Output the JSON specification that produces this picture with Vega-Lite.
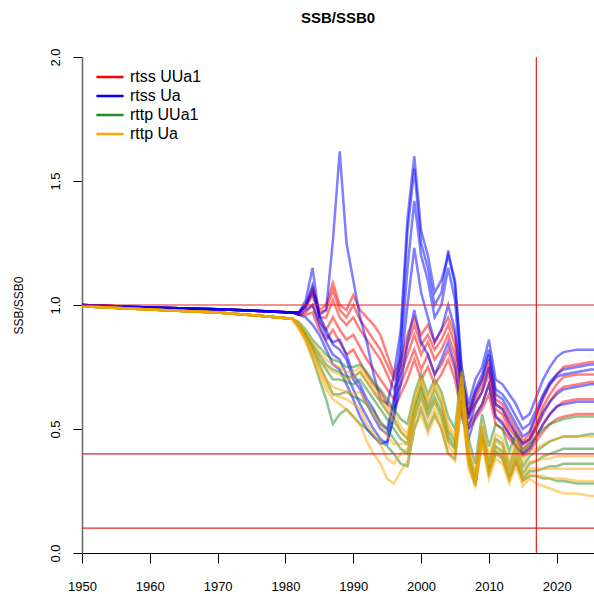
{
"$schema":"https://vega.github.io/schema/vega-lite/v6.json",
"width":512,"height":496,
"autosize":{"type":"none"},
"padding":{"left":82,"top":57,"right":0,"bottom":41},
"background":"white",
"title":{"text":"SSB/SSB0","fontSize":15,"fontWeight":"bold","font":"Liberation Sans","color":"#000","anchor":"middle","offset":22},
"config":{"view":{"stroke":null},"font":"Liberation Sans"},
"layer":[
{"data":{"values":[
{"g":"a","i":1,"x":1950,"v":1},{"g":"a","i":1,"x":1960,"v":0.99},{"g":"a","i":1,"x":1970,"v":0.983},{"g":"a","i":1,"x":1977,"v":0.975},{"g":"a","i":1,"x":1981,"v":0.97},
{"g":"a","i":1,"x":1982,"v":0.97},{"g":"a","i":1,"x":1983,"v":1.0},{"g":"a","i":1,"x":1984,"v":1.07},{"g":"a","i":1,"x":1985,"v":0.98},{"g":"a","i":1,"x":1986,"v":1.0},{"g":"a","i":1,"x":1987,"v":1.09},{"g":"a","i":1,"x":1988,"v":1.0},{"g":"a","i":1,"x":1989,"v":0.98},{"g":"a","i":1,"x":1990,"v":1.04},{"g":"a","i":1,"x":1991,"v":0.98},
{"g":"a","i":1,"x":1992,"v":0.95},{"g":"a","i":1,"x":1993,"v":0.92},{"g":"a","i":1,"x":1994,"v":0.88},{"g":"a","i":1,"x":1995,"v":0.8},{"g":"a","i":1,"x":1996,"v":0.72},{"g":"a","i":1,"x":1997,"v":0.78},{"g":"a","i":1,"x":1998,"v":0.88},{"g":"a","i":1,"x":1999,"v":0.95},{"g":"a","i":1,"x":2000,"v":0.88},{"g":"a","i":1,"x":2001,"v":0.92},
{"g":"a","i":1,"x":2002,"v":0.85},{"g":"a","i":1,"x":2003,"v":0.9},{"g":"a","i":1,"x":2004,"v":0.95},{"g":"a","i":1,"x":2005,"v":0.88},{"g":"a","i":1,"x":2006,"v":0.7},{"g":"a","i":1,"x":2007,"v":0.58},{"g":"a","i":1,"x":2008,"v":0.65},{"g":"a","i":1,"x":2009,"v":0.7},{"g":"a","i":1,"x":2010,"v":0.78},{"g":"a","i":1,"x":2011,"v":0.62},
{"g":"a","i":1,"x":2012,"v":0.6},{"g":"a","i":1,"x":2013,"v":0.55},{"g":"a","i":1,"x":2014,"v":0.5},{"g":"a","i":1,"x":2015,"v":0.45},{"g":"a","i":1,"x":2016,"v":0.48},
{"g":"a","i":1,"x":2017,"v":0.55},{"g":"a","i":1,"x":2018,"v":0.62},{"g":"a","i":1,"x":2019,"v":0.68},{"g":"a","i":1,"x":2020,"v":0.72},{"g":"a","i":1,"x":2021,"v":0.75},{"g":"a","i":1,"x":2023,"v":0.76},{"g":"a","i":1,"x":2025,"v":0.77},{"g":"a","i":1,"x":2027,"v":0.77},

{"g":"a","i":2,"x":1950,"v":1},{"g":"a","i":2,"x":1960,"v":0.99},{"g":"a","i":2,"x":1970,"v":0.983},{"g":"a","i":2,"x":1977,"v":0.975},{"g":"a","i":2,"x":1981,"v":0.97},
{"g":"a","i":2,"x":1982,"v":0.97},{"g":"a","i":2,"x":1983,"v":0.99},{"g":"a","i":2,"x":1984,"v":1.04},{"g":"a","i":2,"x":1985,"v":0.95},{"g":"a","i":2,"x":1986,"v":0.95},{"g":"a","i":2,"x":1987,"v":1.02},{"g":"a","i":2,"x":1988,"v":0.95},{"g":"a","i":2,"x":1989,"v":0.92},{"g":"a","i":2,"x":1990,"v":0.95},{"g":"a","i":2,"x":1991,"v":0.9},
{"g":"a","i":2,"x":1992,"v":0.86},{"g":"a","i":2,"x":1993,"v":0.82},{"g":"a","i":2,"x":1994,"v":0.78},{"g":"a","i":2,"x":1995,"v":0.72},{"g":"a","i":2,"x":1996,"v":0.66},{"g":"a","i":2,"x":1997,"v":0.72},{"g":"a","i":2,"x":1998,"v":0.8},{"g":"a","i":2,"x":1999,"v":0.88},{"g":"a","i":2,"x":2000,"v":0.8},{"g":"a","i":2,"x":2001,"v":0.85},
{"g":"a","i":2,"x":2002,"v":0.78},{"g":"a","i":2,"x":2003,"v":0.82},{"g":"a","i":2,"x":2004,"v":0.88},{"g":"a","i":2,"x":2005,"v":0.8},{"g":"a","i":2,"x":2006,"v":0.64},{"g":"a","i":2,"x":2007,"v":0.55},{"g":"a","i":2,"x":2008,"v":0.6},{"g":"a","i":2,"x":2009,"v":0.65},{"g":"a","i":2,"x":2010,"v":0.72},{"g":"a","i":2,"x":2011,"v":0.58},
{"g":"a","i":2,"x":2012,"v":0.56},{"g":"a","i":2,"x":2013,"v":0.5},{"g":"a","i":2,"x":2014,"v":0.47},{"g":"a","i":2,"x":2015,"v":0.42},{"g":"a","i":2,"x":2016,"v":0.45},
{"g":"a","i":2,"x":2017,"v":0.5},{"g":"a","i":2,"x":2018,"v":0.56},{"g":"a","i":2,"x":2019,"v":0.61},{"g":"a","i":2,"x":2020,"v":0.65},{"g":"a","i":2,"x":2021,"v":0.67},{"g":"a","i":2,"x":2023,"v":0.68},{"g":"a","i":2,"x":2025,"v":0.69},{"g":"a","i":2,"x":2027,"v":0.69},

{"g":"a","i":3,"x":1950,"v":1},{"g":"a","i":3,"x":1960,"v":0.99},{"g":"a","i":3,"x":1970,"v":0.983},{"g":"a","i":3,"x":1977,"v":0.975},{"g":"a","i":3,"x":1981,"v":0.97},
{"g":"a","i":3,"x":1982,"v":0.96},{"g":"a","i":3,"x":1983,"v":0.97},{"g":"a","i":3,"x":1984,"v":1.0},{"g":"a","i":3,"x":1985,"v":0.93},{"g":"a","i":3,"x":1986,"v":0.9},{"g":"a","i":3,"x":1987,"v":0.95},{"g":"a","i":3,"x":1988,"v":0.9},{"g":"a","i":3,"x":1989,"v":0.86},{"g":"a","i":3,"x":1990,"v":0.88},{"g":"a","i":3,"x":1991,"v":0.83},
{"g":"a","i":3,"x":1992,"v":0.78},{"g":"a","i":3,"x":1993,"v":0.74},{"g":"a","i":3,"x":1994,"v":0.7},{"g":"a","i":3,"x":1995,"v":0.66},{"g":"a","i":3,"x":1996,"v":0.62},{"g":"a","i":3,"x":1997,"v":0.68},{"g":"a","i":3,"x":1998,"v":0.75},{"g":"a","i":3,"x":1999,"v":0.82},{"g":"a","i":3,"x":2000,"v":0.74},{"g":"a","i":3,"x":2001,"v":0.8},
{"g":"a","i":3,"x":2002,"v":0.72},{"g":"a","i":3,"x":2003,"v":0.76},{"g":"a","i":3,"x":2004,"v":0.82},{"g":"a","i":3,"x":2005,"v":0.74},{"g":"a","i":3,"x":2006,"v":0.6},{"g":"a","i":3,"x":2007,"v":0.52},{"g":"a","i":3,"x":2008,"v":0.56},{"g":"a","i":3,"x":2009,"v":0.6},{"g":"a","i":3,"x":2010,"v":0.68},{"g":"a","i":3,"x":2011,"v":0.55},
{"g":"a","i":3,"x":2012,"v":0.53},{"g":"a","i":3,"x":2013,"v":0.48},{"g":"a","i":3,"x":2014,"v":0.45},{"g":"a","i":3,"x":2015,"v":0.4},{"g":"a","i":3,"x":2016,"v":0.43},
{"g":"a","i":3,"x":2017,"v":0.47},{"g":"a","i":3,"x":2018,"v":0.52},{"g":"a","i":3,"x":2019,"v":0.56},{"g":"a","i":3,"x":2020,"v":0.59},{"g":"a","i":3,"x":2021,"v":0.61},{"g":"a","i":3,"x":2023,"v":0.62},{"g":"a","i":3,"x":2025,"v":0.62},{"g":"a","i":3,"x":2027,"v":0.62},

{"g":"a","i":4,"x":1950,"v":1},{"g":"a","i":4,"x":1960,"v":0.99},{"g":"a","i":4,"x":1970,"v":0.983},{"g":"a","i":4,"x":1977,"v":0.975},{"g":"a","i":4,"x":1981,"v":0.97},
{"g":"a","i":4,"x":1982,"v":0.96},{"g":"a","i":4,"x":1983,"v":0.96},{"g":"a","i":4,"x":1984,"v":0.97},{"g":"a","i":4,"x":1985,"v":0.9},{"g":"a","i":4,"x":1986,"v":0.86},{"g":"a","i":4,"x":1987,"v":0.9},{"g":"a","i":4,"x":1988,"v":0.85},{"g":"a","i":4,"x":1989,"v":0.8},{"g":"a","i":4,"x":1990,"v":0.82},{"g":"a","i":4,"x":1991,"v":0.77},
{"g":"a","i":4,"x":1992,"v":0.72},{"g":"a","i":4,"x":1993,"v":0.68},{"g":"a","i":4,"x":1994,"v":0.65},{"g":"a","i":4,"x":1995,"v":0.6},{"g":"a","i":4,"x":1996,"v":0.58},{"g":"a","i":4,"x":1997,"v":0.64},{"g":"a","i":4,"x":1998,"v":0.7},{"g":"a","i":4,"x":1999,"v":0.78},{"g":"a","i":4,"x":2000,"v":0.7},{"g":"a","i":4,"x":2001,"v":0.75},
{"g":"a","i":4,"x":2002,"v":0.68},{"g":"a","i":4,"x":2003,"v":0.72},{"g":"a","i":4,"x":2004,"v":0.78},{"g":"a","i":4,"x":2005,"v":0.7},{"g":"a","i":4,"x":2006,"v":0.56},{"g":"a","i":4,"x":2007,"v":0.5},{"g":"a","i":4,"x":2008,"v":0.54},{"g":"a","i":4,"x":2009,"v":0.58},{"g":"a","i":4,"x":2010,"v":0.64},{"g":"a","i":4,"x":2011,"v":0.52},
{"g":"a","i":4,"x":2012,"v":0.5},{"g":"a","i":4,"x":2013,"v":0.46},{"g":"a","i":4,"x":2014,"v":0.43},{"g":"a","i":4,"x":2015,"v":0.39},{"g":"a","i":4,"x":2016,"v":0.41},
{"g":"a","i":4,"x":2017,"v":0.45},{"g":"a","i":4,"x":2018,"v":0.49},{"g":"a","i":4,"x":2019,"v":0.52},{"g":"a","i":4,"x":2020,"v":0.54},{"g":"a","i":4,"x":2021,"v":0.55},{"g":"a","i":4,"x":2023,"v":0.56},{"g":"a","i":4,"x":2025,"v":0.56},{"g":"a","i":4,"x":2027,"v":0.56},

{"g":"a","i":5,"x":1950,"v":1},{"g":"a","i":5,"x":1960,"v":0.99},{"g":"a","i":5,"x":1970,"v":0.983},{"g":"a","i":5,"x":1977,"v":0.975},{"g":"a","i":5,"x":1981,"v":0.97},
{"g":"a","i":5,"x":1982,"v":0.97},{"g":"a","i":5,"x":1983,"v":0.99},{"g":"a","i":5,"x":1984,"v":1.06},{"g":"a","i":5,"x":1985,"v":0.97},{"g":"a","i":5,"x":1986,"v":0.98},{"g":"a","i":5,"x":1987,"v":1.06},{"g":"a","i":5,"x":1988,"v":0.98},{"g":"a","i":5,"x":1989,"v":0.95},{"g":"a","i":5,"x":1990,"v":1.0},{"g":"a","i":5,"x":1991,"v":0.94},
{"g":"a","i":5,"x":1992,"v":0.9},{"g":"a","i":5,"x":1993,"v":0.86},{"g":"a","i":5,"x":1994,"v":0.82},{"g":"a","i":5,"x":1995,"v":0.76},{"g":"a","i":5,"x":1996,"v":0.7},{"g":"a","i":5,"x":1997,"v":0.75},{"g":"a","i":5,"x":1998,"v":0.84},{"g":"a","i":5,"x":1999,"v":0.92},{"g":"a","i":5,"x":2000,"v":0.84},{"g":"a","i":5,"x":2001,"v":0.88},
{"g":"a","i":5,"x":2002,"v":0.82},{"g":"a","i":5,"x":2003,"v":0.86},{"g":"a","i":5,"x":2004,"v":0.92},{"g":"a","i":5,"x":2005,"v":0.84},{"g":"a","i":5,"x":2006,"v":0.67},{"g":"a","i":5,"x":2007,"v":0.56},{"g":"a","i":5,"x":2008,"v":0.62},{"g":"a","i":5,"x":2009,"v":0.68},{"g":"a","i":5,"x":2010,"v":0.75},{"g":"a","i":5,"x":2011,"v":0.6},
{"g":"a","i":5,"x":2012,"v":0.58},{"g":"a","i":5,"x":2013,"v":0.52},{"g":"a","i":5,"x":2014,"v":0.48},{"g":"a","i":5,"x":2015,"v":0.44},{"g":"a","i":5,"x":2016,"v":0.46},
{"g":"a","i":5,"x":2017,"v":0.52},{"g":"a","i":5,"x":2018,"v":0.59},{"g":"a","i":5,"x":2019,"v":0.64},{"g":"a","i":5,"x":2020,"v":0.68},{"g":"a","i":5,"x":2021,"v":0.71},{"g":"a","i":5,"x":2023,"v":0.72},{"g":"a","i":5,"x":2025,"v":0.72},{"g":"a","i":5,"x":2027,"v":0.72},

{"g":"b","i":1,"x":1950,"v":1},{"g":"b","i":1,"x":1960,"v":0.99},{"g":"b","i":1,"x":1970,"v":0.983},{"g":"b","i":1,"x":1977,"v":0.975},{"g":"b","i":1,"x":1981,"v":0.97},
{"g":"b","i":1,"x":1982,"v":0.97},{"g":"b","i":1,"x":1983,"v":1.0},{"g":"b","i":1,"x":1984,"v":1.05},{"g":"b","i":1,"x":1985,"v":0.96},{"g":"b","i":1,"x":1986,"v":0.98},{"g":"b","i":1,"x":1987,"v":1.26},{"g":"b","i":1,"x":1988,"v":1.62},{"g":"b","i":1,"x":1989,"v":1.25},{"g":"b","i":1,"x":1990,"v":1.1},{"g":"b","i":1,"x":1991,"v":0.95},
{"g":"b","i":1,"x":1992,"v":0.85},{"g":"b","i":1,"x":1993,"v":0.72},{"g":"b","i":1,"x":1994,"v":0.62},{"g":"b","i":1,"x":1995,"v":0.6},{"g":"b","i":1,"x":1996,"v":0.72},{"g":"b","i":1,"x":1997,"v":0.9},{"g":"b","i":1,"x":1998,"v":1.35},{"g":"b","i":1,"x":1999,"v":1.6},{"g":"b","i":1,"x":2000,"v":1.3},{"g":"b","i":1,"x":2001,"v":1.2},
{"g":"b","i":1,"x":2002,"v":1.05},{"g":"b","i":1,"x":2003,"v":1.1},{"g":"b","i":1,"x":2004,"v":1.2},{"g":"b","i":1,"x":2005,"v":1.1},{"g":"b","i":1,"x":2006,"v":0.75},{"g":"b","i":1,"x":2007,"v":0.6},{"g":"b","i":1,"x":2008,"v":0.7},{"g":"b","i":1,"x":2009,"v":0.75},{"g":"b","i":1,"x":2010,"v":0.86},{"g":"b","i":1,"x":2011,"v":0.7},
{"g":"b","i":1,"x":2012,"v":0.68},{"g":"b","i":1,"x":2013,"v":0.64},{"g":"b","i":1,"x":2014,"v":0.6},{"g":"b","i":1,"x":2015,"v":0.54},{"g":"b","i":1,"x":2016,"v":0.56},
{"g":"b","i":1,"x":2017,"v":0.63},{"g":"b","i":1,"x":2018,"v":0.7},{"g":"b","i":1,"x":2019,"v":0.75},{"g":"b","i":1,"x":2020,"v":0.79},{"g":"b","i":1,"x":2021,"v":0.81},{"g":"b","i":1,"x":2023,"v":0.82},{"g":"b","i":1,"x":2025,"v":0.82},{"g":"b","i":1,"x":2027,"v":0.82},

{"g":"b","i":2,"x":1950,"v":1},{"g":"b","i":2,"x":1960,"v":0.99},{"g":"b","i":2,"x":1970,"v":0.983},{"g":"b","i":2,"x":1977,"v":0.975},{"g":"b","i":2,"x":1981,"v":0.97},
{"g":"b","i":2,"x":1982,"v":0.97},{"g":"b","i":2,"x":1983,"v":1.02},{"g":"b","i":2,"x":1984,"v":1.15},{"g":"b","i":2,"x":1985,"v":0.95},{"g":"b","i":2,"x":1986,"v":0.88},{"g":"b","i":2,"x":1987,"v":0.85},{"g":"b","i":2,"x":1988,"v":0.86},{"g":"b","i":2,"x":1989,"v":0.8},{"g":"b","i":2,"x":1990,"v":0.72},{"g":"b","i":2,"x":1991,"v":0.68},
{"g":"b","i":2,"x":1992,"v":0.62},{"g":"b","i":2,"x":1993,"v":0.58},{"g":"b","i":2,"x":1994,"v":0.52},{"g":"b","i":2,"x":1995,"v":0.5},{"g":"b","i":2,"x":1996,"v":0.62},{"g":"b","i":2,"x":1997,"v":0.85},{"g":"b","i":2,"x":1998,"v":1.3},{"g":"b","i":2,"x":1999,"v":1.55},{"g":"b","i":2,"x":2000,"v":1.25},{"g":"b","i":2,"x":2001,"v":1.15},
{"g":"b","i":2,"x":2002,"v":1.0},{"g":"b","i":2,"x":2003,"v":1.05},{"g":"b","i":2,"x":2004,"v":1.22},{"g":"b","i":2,"x":2005,"v":1.08},{"g":"b","i":2,"x":2006,"v":0.72},{"g":"b","i":2,"x":2007,"v":0.56},{"g":"b","i":2,"x":2008,"v":0.66},{"g":"b","i":2,"x":2009,"v":0.72},{"g":"b","i":2,"x":2010,"v":0.82},{"g":"b","i":2,"x":2011,"v":0.66},
{"g":"b","i":2,"x":2012,"v":0.64},{"g":"b","i":2,"x":2013,"v":0.6},{"g":"b","i":2,"x":2014,"v":0.55},{"g":"b","i":2,"x":2015,"v":0.5},{"g":"b","i":2,"x":2016,"v":0.52},
{"g":"b","i":2,"x":2017,"v":0.58},{"g":"b","i":2,"x":2018,"v":0.64},{"g":"b","i":2,"x":2019,"v":0.69},{"g":"b","i":2,"x":2020,"v":0.72},{"g":"b","i":2,"x":2021,"v":0.74},{"g":"b","i":2,"x":2023,"v":0.75},{"g":"b","i":2,"x":2025,"v":0.76},{"g":"b","i":2,"x":2027,"v":0.76},

{"g":"b","i":3,"x":1950,"v":1},{"g":"b","i":3,"x":1960,"v":0.99},{"g":"b","i":3,"x":1970,"v":0.983},{"g":"b","i":3,"x":1977,"v":0.975},{"g":"b","i":3,"x":1981,"v":0.97},
{"g":"b","i":3,"x":1982,"v":0.96},{"g":"b","i":3,"x":1983,"v":0.98},{"g":"b","i":3,"x":1984,"v":1.0},{"g":"b","i":3,"x":1985,"v":0.92},{"g":"b","i":3,"x":1986,"v":0.85},{"g":"b","i":3,"x":1987,"v":0.8},{"g":"b","i":3,"x":1988,"v":0.78},{"g":"b","i":3,"x":1989,"v":0.72},{"g":"b","i":3,"x":1990,"v":0.66},{"g":"b","i":3,"x":1991,"v":0.6},
{"g":"b","i":3,"x":1992,"v":0.55},{"g":"b","i":3,"x":1993,"v":0.5},{"g":"b","i":3,"x":1994,"v":0.46},{"g":"b","i":3,"x":1995,"v":0.44},{"g":"b","i":3,"x":1996,"v":0.55},{"g":"b","i":3,"x":1997,"v":0.75},{"g":"b","i":3,"x":1998,"v":1.0},{"g":"b","i":3,"x":1999,"v":1.23},{"g":"b","i":3,"x":2000,"v":1.05},{"g":"b","i":3,"x":2001,"v":0.95},
{"g":"b","i":3,"x":2002,"v":0.85},{"g":"b","i":3,"x":2003,"v":0.9},{"g":"b","i":3,"x":2004,"v":1.0},{"g":"b","i":3,"x":2005,"v":0.9},{"g":"b","i":3,"x":2006,"v":0.62},{"g":"b","i":3,"x":2007,"v":0.5},{"g":"b","i":3,"x":2008,"v":0.6},{"g":"b","i":3,"x":2009,"v":0.65},{"g":"b","i":3,"x":2010,"v":0.75},{"g":"b","i":3,"x":2011,"v":0.6},
{"g":"b","i":3,"x":2012,"v":0.58},{"g":"b","i":3,"x":2013,"v":0.53},{"g":"b","i":3,"x":2014,"v":0.48},{"g":"b","i":3,"x":2015,"v":0.44},{"g":"b","i":3,"x":2016,"v":0.46},
{"g":"b","i":3,"x":2017,"v":0.51},{"g":"b","i":3,"x":2018,"v":0.57},{"g":"b","i":3,"x":2019,"v":0.61},{"g":"b","i":3,"x":2020,"v":0.64},{"g":"b","i":3,"x":2021,"v":0.66},{"g":"b","i":3,"x":2023,"v":0.67},{"g":"b","i":3,"x":2025,"v":0.68},{"g":"b","i":3,"x":2027,"v":0.68},

{"g":"b","i":4,"x":1950,"v":1},{"g":"b","i":4,"x":1960,"v":0.99},{"g":"b","i":4,"x":1970,"v":0.983},{"g":"b","i":4,"x":1977,"v":0.975},{"g":"b","i":4,"x":1981,"v":0.97},
{"g":"b","i":4,"x":1982,"v":0.96},{"g":"b","i":4,"x":1983,"v":0.95},{"g":"b","i":4,"x":1984,"v":0.92},{"g":"b","i":4,"x":1985,"v":0.88},{"g":"b","i":4,"x":1986,"v":0.82},{"g":"b","i":4,"x":1987,"v":0.76},{"g":"b","i":4,"x":1988,"v":0.74},{"g":"b","i":4,"x":1989,"v":0.68},{"g":"b","i":4,"x":1990,"v":0.62},{"g":"b","i":4,"x":1991,"v":0.55},
{"g":"b","i":4,"x":1992,"v":0.5},{"g":"b","i":4,"x":1993,"v":0.47},{"g":"b","i":4,"x":1994,"v":0.44},{"g":"b","i":4,"x":1995,"v":0.45},{"g":"b","i":4,"x":1996,"v":0.55},{"g":"b","i":4,"x":1997,"v":0.68},{"g":"b","i":4,"x":1998,"v":0.85},{"g":"b","i":4,"x":1999,"v":0.98},{"g":"b","i":4,"x":2000,"v":0.85},{"g":"b","i":4,"x":2001,"v":0.8},
{"g":"b","i":4,"x":2002,"v":0.72},{"g":"b","i":4,"x":2003,"v":0.78},{"g":"b","i":4,"x":2004,"v":0.85},{"g":"b","i":4,"x":2005,"v":0.76},{"g":"b","i":4,"x":2006,"v":0.55},{"g":"b","i":4,"x":2007,"v":0.46},{"g":"b","i":4,"x":2008,"v":0.55},{"g":"b","i":4,"x":2009,"v":0.6},{"g":"b","i":4,"x":2010,"v":0.68},{"g":"b","i":4,"x":2011,"v":0.55},
{"g":"b","i":4,"x":2012,"v":0.52},{"g":"b","i":4,"x":2013,"v":0.48},{"g":"b","i":4,"x":2014,"v":0.43},{"g":"b","i":4,"x":2015,"v":0.4},{"g":"b","i":4,"x":2016,"v":0.42},
{"g":"b","i":4,"x":2017,"v":0.47},{"g":"b","i":4,"x":2018,"v":0.52},{"g":"b","i":4,"x":2019,"v":0.56},{"g":"b","i":4,"x":2020,"v":0.59},{"g":"b","i":4,"x":2021,"v":0.6},{"g":"b","i":4,"x":2023,"v":0.61},{"g":"b","i":4,"x":2025,"v":0.61},{"g":"b","i":4,"x":2027,"v":0.61},

{"g":"b","i":5,"x":1950,"v":1},{"g":"b","i":5,"x":1960,"v":0.99},{"g":"b","i":5,"x":1970,"v":0.983},{"g":"b","i":5,"x":1977,"v":0.975},{"g":"b","i":5,"x":1981,"v":0.97},
{"g":"b","i":5,"x":1982,"v":0.97},{"g":"b","i":5,"x":1983,"v":1.0},{"g":"b","i":5,"x":1984,"v":1.08},{"g":"b","i":5,"x":1985,"v":0.96},{"g":"b","i":5,"x":1986,"v":0.9},{"g":"b","i":5,"x":1987,"v":0.84},{"g":"b","i":5,"x":1988,"v":0.82},{"g":"b","i":5,"x":1989,"v":0.78},{"g":"b","i":5,"x":1990,"v":0.7},{"g":"b","i":5,"x":1991,"v":0.66},
{"g":"b","i":5,"x":1992,"v":0.6},{"g":"b","i":5,"x":1993,"v":0.55},{"g":"b","i":5,"x":1994,"v":0.5},{"g":"b","i":5,"x":1995,"v":0.48},{"g":"b","i":5,"x":1996,"v":0.6},{"g":"b","i":5,"x":1997,"v":0.8},{"g":"b","i":5,"x":1998,"v":1.15},{"g":"b","i":5,"x":1999,"v":1.42},{"g":"b","i":5,"x":2000,"v":1.2},{"g":"b","i":5,"x":2001,"v":1.1},
{"g":"b","i":5,"x":2002,"v":0.95},{"g":"b","i":5,"x":2003,"v":1.0},{"g":"b","i":5,"x":2004,"v":1.15},{"g":"b","i":5,"x":2005,"v":1.02},{"g":"b","i":5,"x":2006,"v":0.68},{"g":"b","i":5,"x":2007,"v":0.54},{"g":"b","i":5,"x":2008,"v":0.64},{"g":"b","i":5,"x":2009,"v":0.7},{"g":"b","i":5,"x":2010,"v":0.8},{"g":"b","i":5,"x":2011,"v":0.64},
{"g":"b","i":5,"x":2012,"v":0.62},{"g":"b","i":5,"x":2013,"v":0.57},{"g":"b","i":5,"x":2014,"v":0.52},{"g":"b","i":5,"x":2015,"v":0.47},{"g":"b","i":5,"x":2016,"v":0.49},
{"g":"b","i":5,"x":2017,"v":0.56},{"g":"b","i":5,"x":2018,"v":0.63},{"g":"b","i":5,"x":2019,"v":0.68},{"g":"b","i":5,"x":2020,"v":0.71},{"g":"b","i":5,"x":2021,"v":0.72},{"g":"b","i":5,"x":2023,"v":0.73},{"g":"b","i":5,"x":2025,"v":0.74},{"g":"b","i":5,"x":2027,"v":0.74},

{"g":"c","i":1,"x":1950,"v":0.995},{"g":"c","i":1,"x":1960,"v":0.982},{"g":"c","i":1,"x":1970,"v":0.97},{"g":"c","i":1,"x":1977,"v":0.955},{"g":"c","i":1,"x":1981,"v":0.945},
{"g":"c","i":1,"x":1982,"v":0.93},{"g":"c","i":1,"x":1983,"v":0.9},{"g":"c","i":1,"x":1984,"v":0.86},{"g":"c","i":1,"x":1985,"v":0.83},{"g":"c","i":1,"x":1986,"v":0.8},{"g":"c","i":1,"x":1987,"v":0.78},{"g":"c","i":1,"x":1988,"v":0.77},{"g":"c","i":1,"x":1989,"v":0.75},{"g":"c","i":1,"x":1990,"v":0.75},{"g":"c","i":1,"x":1991,"v":0.76},
{"g":"c","i":1,"x":1992,"v":0.73},{"g":"c","i":1,"x":1993,"v":0.69},{"g":"c","i":1,"x":1994,"v":0.66},{"g":"c","i":1,"x":1995,"v":0.62},{"g":"c","i":1,"x":1996,"v":0.58},{"g":"c","i":1,"x":1997,"v":0.54},{"g":"c","i":1,"x":1998,"v":0.52},{"g":"c","i":1,"x":1999,"v":0.64},{"g":"c","i":1,"x":2000,"v":0.72},{"g":"c","i":1,"x":2001,"v":0.64},
{"g":"c","i":1,"x":2002,"v":0.7},{"g":"c","i":1,"x":2003,"v":0.65},{"g":"c","i":1,"x":2004,"v":0.55},{"g":"c","i":1,"x":2005,"v":0.5},{"g":"c","i":1,"x":2006,"v":0.74},{"g":"c","i":1,"x":2007,"v":0.46},{"g":"c","i":1,"x":2008,"v":0.36},{"g":"c","i":1,"x":2009,"v":0.56},{"g":"c","i":1,"x":2010,"v":0.43},{"g":"c","i":1,"x":2011,"v":0.52},
{"g":"c","i":1,"x":2012,"v":0.5},{"g":"c","i":1,"x":2013,"v":0.41},{"g":"c","i":1,"x":2014,"v":0.48},{"g":"c","i":1,"x":2015,"v":0.41},{"g":"c","i":1,"x":2016,"v":0.44},
{"g":"c","i":1,"x":2017,"v":0.47},{"g":"c","i":1,"x":2018,"v":0.5},{"g":"c","i":1,"x":2019,"v":0.52},{"g":"c","i":1,"x":2020,"v":0.53},{"g":"c","i":1,"x":2021,"v":0.54},{"g":"c","i":1,"x":2023,"v":0.55},{"g":"c","i":1,"x":2025,"v":0.55},{"g":"c","i":1,"x":2027,"v":0.55},

{"g":"c","i":2,"x":1950,"v":0.995},{"g":"c","i":2,"x":1960,"v":0.982},{"g":"c","i":2,"x":1970,"v":0.97},{"g":"c","i":2,"x":1977,"v":0.955},{"g":"c","i":2,"x":1981,"v":0.945},
{"g":"c","i":2,"x":1982,"v":0.92},{"g":"c","i":2,"x":1983,"v":0.88},{"g":"c","i":2,"x":1984,"v":0.84},{"g":"c","i":2,"x":1985,"v":0.8},{"g":"c","i":2,"x":1986,"v":0.76},{"g":"c","i":2,"x":1987,"v":0.74},{"g":"c","i":2,"x":1988,"v":0.73},{"g":"c","i":2,"x":1989,"v":0.71},{"g":"c","i":2,"x":1990,"v":0.71},{"g":"c","i":2,"x":1991,"v":0.73},
{"g":"c","i":2,"x":1992,"v":0.69},{"g":"c","i":2,"x":1993,"v":0.65},{"g":"c","i":2,"x":1994,"v":0.61},{"g":"c","i":2,"x":1995,"v":0.57},{"g":"c","i":2,"x":1996,"v":0.54},{"g":"c","i":2,"x":1997,"v":0.49},{"g":"c","i":2,"x":1998,"v":0.46},{"g":"c","i":2,"x":1999,"v":0.59},{"g":"c","i":2,"x":2000,"v":0.68},{"g":"c","i":2,"x":2001,"v":0.59},
{"g":"c","i":2,"x":2002,"v":0.66},{"g":"c","i":2,"x":2003,"v":0.6},{"g":"c","i":2,"x":2004,"v":0.49},{"g":"c","i":2,"x":2005,"v":0.45},{"g":"c","i":2,"x":2006,"v":0.7},{"g":"c","i":2,"x":2007,"v":0.41},{"g":"c","i":2,"x":2008,"v":0.31},{"g":"c","i":2,"x":2009,"v":0.51},{"g":"c","i":2,"x":2010,"v":0.37},{"g":"c","i":2,"x":2011,"v":0.46},
{"g":"c","i":2,"x":2012,"v":0.44},{"g":"c","i":2,"x":2013,"v":0.35},{"g":"c","i":2,"x":2014,"v":0.43},{"g":"c","i":2,"x":2015,"v":0.35},{"g":"c","i":2,"x":2016,"v":0.39},
{"g":"c","i":2,"x":2017,"v":0.41},{"g":"c","i":2,"x":2018,"v":0.43},{"g":"c","i":2,"x":2019,"v":0.45},{"g":"c","i":2,"x":2020,"v":0.46},{"g":"c","i":2,"x":2021,"v":0.47},{"g":"c","i":2,"x":2023,"v":0.47},{"g":"c","i":2,"x":2025,"v":0.48},{"g":"c","i":2,"x":2027,"v":0.48},

{"g":"c","i":3,"x":1950,"v":0.995},{"g":"c","i":3,"x":1960,"v":0.982},{"g":"c","i":3,"x":1970,"v":0.97},{"g":"c","i":3,"x":1977,"v":0.955},{"g":"c","i":3,"x":1981,"v":0.945},
{"g":"c","i":3,"x":1982,"v":0.91},{"g":"c","i":3,"x":1983,"v":0.86},{"g":"c","i":3,"x":1984,"v":0.79},{"g":"c","i":3,"x":1985,"v":0.7},{"g":"c","i":3,"x":1986,"v":0.62},{"g":"c","i":3,"x":1987,"v":0.52},{"g":"c","i":3,"x":1988,"v":0.56},{"g":"c","i":3,"x":1989,"v":0.58},{"g":"c","i":3,"x":1990,"v":0.55},{"g":"c","i":3,"x":1991,"v":0.52},
{"g":"c","i":3,"x":1992,"v":0.5},{"g":"c","i":3,"x":1993,"v":0.47},{"g":"c","i":3,"x":1994,"v":0.45},{"g":"c","i":3,"x":1995,"v":0.43},{"g":"c","i":3,"x":1996,"v":0.4},{"g":"c","i":3,"x":1997,"v":0.36},{"g":"c","i":3,"x":1998,"v":0.35},{"g":"c","i":3,"x":1999,"v":0.5},{"g":"c","i":3,"x":2000,"v":0.58},{"g":"c","i":3,"x":2001,"v":0.5},
{"g":"c","i":3,"x":2002,"v":0.56},{"g":"c","i":3,"x":2003,"v":0.5},{"g":"c","i":3,"x":2004,"v":0.4},{"g":"c","i":3,"x":2005,"v":0.38},{"g":"c","i":3,"x":2006,"v":0.62},{"g":"c","i":3,"x":2007,"v":0.36},{"g":"c","i":3,"x":2008,"v":0.27},{"g":"c","i":3,"x":2009,"v":0.46},{"g":"c","i":3,"x":2010,"v":0.32},{"g":"c","i":3,"x":2011,"v":0.4},
{"g":"c","i":3,"x":2012,"v":0.38},{"g":"c","i":3,"x":2013,"v":0.3},{"g":"c","i":3,"x":2014,"v":0.37},{"g":"c","i":3,"x":2015,"v":0.3},{"g":"c","i":3,"x":2016,"v":0.33},
{"g":"c","i":3,"x":2017,"v":0.33},{"g":"c","i":3,"x":2018,"v":0.34},{"g":"c","i":3,"x":2019,"v":0.35},{"g":"c","i":3,"x":2020,"v":0.35},{"g":"c","i":3,"x":2021,"v":0.36},{"g":"c","i":3,"x":2023,"v":0.36},{"g":"c","i":3,"x":2025,"v":0.36},{"g":"c","i":3,"x":2027,"v":0.36},

{"g":"c","i":4,"x":1950,"v":0.995},{"g":"c","i":4,"x":1960,"v":0.982},{"g":"c","i":4,"x":1970,"v":0.97},{"g":"c","i":4,"x":1977,"v":0.955},{"g":"c","i":4,"x":1981,"v":0.945},
{"g":"c","i":4,"x":1982,"v":0.92},{"g":"c","i":4,"x":1983,"v":0.87},{"g":"c","i":4,"x":1984,"v":0.82},{"g":"c","i":4,"x":1985,"v":0.76},{"g":"c","i":4,"x":1986,"v":0.7},{"g":"c","i":4,"x":1987,"v":0.64},{"g":"c","i":4,"x":1988,"v":0.64},{"g":"c","i":4,"x":1989,"v":0.65},{"g":"c","i":4,"x":1990,"v":0.63},{"g":"c","i":4,"x":1991,"v":0.62},
{"g":"c","i":4,"x":1992,"v":0.6},{"g":"c","i":4,"x":1993,"v":0.57},{"g":"c","i":4,"x":1994,"v":0.53},{"g":"c","i":4,"x":1995,"v":0.5},{"g":"c","i":4,"x":1996,"v":0.46},{"g":"c","i":4,"x":1997,"v":0.42},{"g":"c","i":4,"x":1998,"v":0.4},{"g":"c","i":4,"x":1999,"v":0.54},{"g":"c","i":4,"x":2000,"v":0.63},{"g":"c","i":4,"x":2001,"v":0.55},
{"g":"c","i":4,"x":2002,"v":0.61},{"g":"c","i":4,"x":2003,"v":0.55},{"g":"c","i":4,"x":2004,"v":0.45},{"g":"c","i":4,"x":2005,"v":0.42},{"g":"c","i":4,"x":2006,"v":0.66},{"g":"c","i":4,"x":2007,"v":0.38},{"g":"c","i":4,"x":2008,"v":0.29},{"g":"c","i":4,"x":2009,"v":0.48},{"g":"c","i":4,"x":2010,"v":0.35},{"g":"c","i":4,"x":2011,"v":0.43},
{"g":"c","i":4,"x":2012,"v":0.41},{"g":"c","i":4,"x":2013,"v":0.32},{"g":"c","i":4,"x":2014,"v":0.4},{"g":"c","i":4,"x":2015,"v":0.32},{"g":"c","i":4,"x":2016,"v":0.36},
{"g":"c","i":4,"x":2017,"v":0.37},{"g":"c","i":4,"x":2018,"v":0.39},{"g":"c","i":4,"x":2019,"v":0.4},{"g":"c","i":4,"x":2020,"v":0.41},{"g":"c","i":4,"x":2021,"v":0.42},{"g":"c","i":4,"x":2023,"v":0.42},{"g":"c","i":4,"x":2025,"v":0.42},{"g":"c","i":4,"x":2027,"v":0.42},

{"g":"c","i":5,"x":1950,"v":0.995},{"g":"c","i":5,"x":1960,"v":0.982},{"g":"c","i":5,"x":1970,"v":0.97},{"g":"c","i":5,"x":1977,"v":0.955},{"g":"c","i":5,"x":1981,"v":0.945},
{"g":"c","i":5,"x":1982,"v":0.92},{"g":"c","i":5,"x":1983,"v":0.88},{"g":"c","i":5,"x":1984,"v":0.83},{"g":"c","i":5,"x":1985,"v":0.78},{"g":"c","i":5,"x":1986,"v":0.74},{"g":"c","i":5,"x":1987,"v":0.7},{"g":"c","i":5,"x":1988,"v":0.7},{"g":"c","i":5,"x":1989,"v":0.69},{"g":"c","i":5,"x":1990,"v":0.68},{"g":"c","i":5,"x":1991,"v":0.7},
{"g":"c","i":5,"x":1992,"v":0.66},{"g":"c","i":5,"x":1993,"v":0.62},{"g":"c","i":5,"x":1994,"v":0.58},{"g":"c","i":5,"x":1995,"v":0.54},{"g":"c","i":5,"x":1996,"v":0.5},{"g":"c","i":5,"x":1997,"v":0.46},{"g":"c","i":5,"x":1998,"v":0.44},{"g":"c","i":5,"x":1999,"v":0.57},{"g":"c","i":5,"x":2000,"v":0.66},{"g":"c","i":5,"x":2001,"v":0.57},
{"g":"c","i":5,"x":2002,"v":0.63},{"g":"c","i":5,"x":2003,"v":0.57},{"g":"c","i":5,"x":2004,"v":0.47},{"g":"c","i":5,"x":2005,"v":0.43},{"g":"c","i":5,"x":2006,"v":0.68},{"g":"c","i":5,"x":2007,"v":0.39},{"g":"c","i":5,"x":2008,"v":0.28},{"g":"c","i":5,"x":2009,"v":0.47},{"g":"c","i":5,"x":2010,"v":0.33},{"g":"c","i":5,"x":2011,"v":0.41},
{"g":"c","i":5,"x":2012,"v":0.39},{"g":"c","i":5,"x":2013,"v":0.3},{"g":"c","i":5,"x":2014,"v":0.37},{"g":"c","i":5,"x":2015,"v":0.29},{"g":"c","i":5,"x":2016,"v":0.31},
{"g":"c","i":5,"x":2017,"v":0.31},{"g":"c","i":5,"x":2018,"v":0.3},{"g":"c","i":5,"x":2019,"v":0.3},{"g":"c","i":5,"x":2020,"v":0.29},{"g":"c","i":5,"x":2021,"v":0.29},{"g":"c","i":5,"x":2023,"v":0.28},{"g":"c","i":5,"x":2025,"v":0.28},{"g":"c","i":5,"x":2027,"v":0.28},

{"g":"d","i":1,"x":1950,"v":0.995},{"g":"d","i":1,"x":1960,"v":0.982},{"g":"d","i":1,"x":1970,"v":0.97},{"g":"d","i":1,"x":1977,"v":0.955},{"g":"d","i":1,"x":1981,"v":0.945},
{"g":"d","i":1,"x":1982,"v":0.9},{"g":"d","i":1,"x":1983,"v":0.85},{"g":"d","i":1,"x":1984,"v":0.78},{"g":"d","i":1,"x":1985,"v":0.72},{"g":"d","i":1,"x":1986,"v":0.66},{"g":"d","i":1,"x":1987,"v":0.62},{"g":"d","i":1,"x":1988,"v":0.6},{"g":"d","i":1,"x":1989,"v":0.58},{"g":"d","i":1,"x":1990,"v":0.55},{"g":"d","i":1,"x":1991,"v":0.52},
{"g":"d","i":1,"x":1992,"v":0.45},{"g":"d","i":1,"x":1993,"v":0.4},{"g":"d","i":1,"x":1994,"v":0.36},{"g":"d","i":1,"x":1995,"v":0.3},{"g":"d","i":1,"x":1996,"v":0.28},{"g":"d","i":1,"x":1997,"v":0.33},{"g":"d","i":1,"x":1998,"v":0.37},{"g":"d","i":1,"x":1999,"v":0.5},{"g":"d","i":1,"x":2000,"v":0.56},{"g":"d","i":1,"x":2001,"v":0.48},
{"g":"d","i":1,"x":2002,"v":0.55},{"g":"d","i":1,"x":2003,"v":0.5},{"g":"d","i":1,"x":2004,"v":0.4},{"g":"d","i":1,"x":2005,"v":0.37},{"g":"d","i":1,"x":2006,"v":0.6},{"g":"d","i":1,"x":2007,"v":0.34},{"g":"d","i":1,"x":2008,"v":0.27},{"g":"d","i":1,"x":2009,"v":0.44},{"g":"d","i":1,"x":2010,"v":0.3},{"g":"d","i":1,"x":2011,"v":0.38},
{"g":"d","i":1,"x":2012,"v":0.36},{"g":"d","i":1,"x":2013,"v":0.28},{"g":"d","i":1,"x":2014,"v":0.35},{"g":"d","i":1,"x":2015,"v":0.27},{"g":"d","i":1,"x":2016,"v":0.3},
{"g":"d","i":1,"x":2017,"v":0.28},{"g":"d","i":1,"x":2018,"v":0.27},{"g":"d","i":1,"x":2019,"v":0.26},{"g":"d","i":1,"x":2020,"v":0.25},{"g":"d","i":1,"x":2021,"v":0.24},{"g":"d","i":1,"x":2023,"v":0.24},{"g":"d","i":1,"x":2025,"v":0.23},{"g":"d","i":1,"x":2027,"v":0.23},

{"g":"d","i":2,"x":1950,"v":0.995},{"g":"d","i":2,"x":1960,"v":0.982},{"g":"d","i":2,"x":1970,"v":0.97},{"g":"d","i":2,"x":1977,"v":0.955},{"g":"d","i":2,"x":1981,"v":0.945},
{"g":"d","i":2,"x":1982,"v":0.91},{"g":"d","i":2,"x":1983,"v":0.86},{"g":"d","i":2,"x":1984,"v":0.8},{"g":"d","i":2,"x":1985,"v":0.74},{"g":"d","i":2,"x":1986,"v":0.68},{"g":"d","i":2,"x":1987,"v":0.64},{"g":"d","i":2,"x":1988,"v":0.63},{"g":"d","i":2,"x":1989,"v":0.62},{"g":"d","i":2,"x":1990,"v":0.6},{"g":"d","i":2,"x":1991,"v":0.58},
{"g":"d","i":2,"x":1992,"v":0.52},{"g":"d","i":2,"x":1993,"v":0.48},{"g":"d","i":2,"x":1994,"v":0.44},{"g":"d","i":2,"x":1995,"v":0.38},{"g":"d","i":2,"x":1996,"v":0.36},{"g":"d","i":2,"x":1997,"v":0.4},{"g":"d","i":2,"x":1998,"v":0.42},{"g":"d","i":2,"x":1999,"v":0.54},{"g":"d","i":2,"x":2000,"v":0.6},{"g":"d","i":2,"x":2001,"v":0.52},
{"g":"d","i":2,"x":2002,"v":0.58},{"g":"d","i":2,"x":2003,"v":0.53},{"g":"d","i":2,"x":2004,"v":0.43},{"g":"d","i":2,"x":2005,"v":0.4},{"g":"d","i":2,"x":2006,"v":0.64},{"g":"d","i":2,"x":2007,"v":0.36},{"g":"d","i":2,"x":2008,"v":0.28},{"g":"d","i":2,"x":2009,"v":0.46},{"g":"d","i":2,"x":2010,"v":0.32},{"g":"d","i":2,"x":2011,"v":0.4},
{"g":"d","i":2,"x":2012,"v":0.38},{"g":"d","i":2,"x":2013,"v":0.3},{"g":"d","i":2,"x":2014,"v":0.37},{"g":"d","i":2,"x":2015,"v":0.29},{"g":"d","i":2,"x":2016,"v":0.32},
{"g":"d","i":2,"x":2017,"v":0.31},{"g":"d","i":2,"x":2018,"v":0.31},{"g":"d","i":2,"x":2019,"v":0.3},{"g":"d","i":2,"x":2020,"v":0.3},{"g":"d","i":2,"x":2021,"v":0.3},{"g":"d","i":2,"x":2023,"v":0.29},{"g":"d","i":2,"x":2025,"v":0.29},{"g":"d","i":2,"x":2027,"v":0.29},

{"g":"d","i":3,"x":1950,"v":0.995},{"g":"d","i":3,"x":1960,"v":0.982},{"g":"d","i":3,"x":1970,"v":0.97},{"g":"d","i":3,"x":1977,"v":0.955},{"g":"d","i":3,"x":1981,"v":0.945},
{"g":"d","i":3,"x":1982,"v":0.92},{"g":"d","i":3,"x":1983,"v":0.87},{"g":"d","i":3,"x":1984,"v":0.83},{"g":"d","i":3,"x":1985,"v":0.78},{"g":"d","i":3,"x":1986,"v":0.75},{"g":"d","i":3,"x":1987,"v":0.73},{"g":"d","i":3,"x":1988,"v":0.72},{"g":"d","i":3,"x":1989,"v":0.7},{"g":"d","i":3,"x":1990,"v":0.71},{"g":"d","i":3,"x":1991,"v":0.73},
{"g":"d","i":3,"x":1992,"v":0.69},{"g":"d","i":3,"x":1993,"v":0.65},{"g":"d","i":3,"x":1994,"v":0.61},{"g":"d","i":3,"x":1995,"v":0.57},{"g":"d","i":3,"x":1996,"v":0.53},{"g":"d","i":3,"x":1997,"v":0.49},{"g":"d","i":3,"x":1998,"v":0.46},{"g":"d","i":3,"x":1999,"v":0.6},{"g":"d","i":3,"x":2000,"v":0.69},{"g":"d","i":3,"x":2001,"v":0.6},
{"g":"d","i":3,"x":2002,"v":0.67},{"g":"d","i":3,"x":2003,"v":0.61},{"g":"d","i":3,"x":2004,"v":0.5},{"g":"d","i":3,"x":2005,"v":0.46},{"g":"d","i":3,"x":2006,"v":0.71},{"g":"d","i":3,"x":2007,"v":0.41},{"g":"d","i":3,"x":2008,"v":0.3},{"g":"d","i":3,"x":2009,"v":0.5},{"g":"d","i":3,"x":2010,"v":0.36},{"g":"d","i":3,"x":2011,"v":0.45},
{"g":"d","i":3,"x":2012,"v":0.43},{"g":"d","i":3,"x":2013,"v":0.34},{"g":"d","i":3,"x":2014,"v":0.42},{"g":"d","i":3,"x":2015,"v":0.34},{"g":"d","i":3,"x":2016,"v":0.37},
{"g":"d","i":3,"x":2017,"v":0.37},{"g":"d","i":3,"x":2018,"v":0.38},{"g":"d","i":3,"x":2019,"v":0.38},{"g":"d","i":3,"x":2020,"v":0.39},{"g":"d","i":3,"x":2021,"v":0.39},{"g":"d","i":3,"x":2023,"v":0.39},{"g":"d","i":3,"x":2025,"v":0.39},{"g":"d","i":3,"x":2027,"v":0.39},

{"g":"d","i":4,"x":1950,"v":0.995},{"g":"d","i":4,"x":1960,"v":0.982},{"g":"d","i":4,"x":1970,"v":0.97},{"g":"d","i":4,"x":1977,"v":0.955},{"g":"d","i":4,"x":1981,"v":0.945},
{"g":"d","i":4,"x":1982,"v":0.93},{"g":"d","i":4,"x":1983,"v":0.89},{"g":"d","i":4,"x":1984,"v":0.85},{"g":"d","i":4,"x":1985,"v":0.81},{"g":"d","i":4,"x":1986,"v":0.78},{"g":"d","i":4,"x":1987,"v":0.76},{"g":"d","i":4,"x":1988,"v":0.75},{"g":"d","i":4,"x":1989,"v":0.73},{"g":"d","i":4,"x":1990,"v":0.73},{"g":"d","i":4,"x":1991,"v":0.75},
{"g":"d","i":4,"x":1992,"v":0.71},{"g":"d","i":4,"x":1993,"v":0.67},{"g":"d","i":4,"x":1994,"v":0.63},{"g":"d","i":4,"x":1995,"v":0.59},{"g":"d","i":4,"x":1996,"v":0.56},{"g":"d","i":4,"x":1997,"v":0.51},{"g":"d","i":4,"x":1998,"v":0.48},{"g":"d","i":4,"x":1999,"v":0.62},{"g":"d","i":4,"x":2000,"v":0.71},{"g":"d","i":4,"x":2001,"v":0.62},
{"g":"d","i":4,"x":2002,"v":0.69},{"g":"d","i":4,"x":2003,"v":0.63},{"g":"d","i":4,"x":2004,"v":0.52},{"g":"d","i":4,"x":2005,"v":0.47},{"g":"d","i":4,"x":2006,"v":0.73},{"g":"d","i":4,"x":2007,"v":0.43},{"g":"d","i":4,"x":2008,"v":0.32},{"g":"d","i":4,"x":2009,"v":0.53},{"g":"d","i":4,"x":2010,"v":0.39},{"g":"d","i":4,"x":2011,"v":0.48},
{"g":"d","i":4,"x":2012,"v":0.46},{"g":"d","i":4,"x":2013,"v":0.37},{"g":"d","i":4,"x":2014,"v":0.45},{"g":"d","i":4,"x":2015,"v":0.37},{"g":"d","i":4,"x":2016,"v":0.41},
{"g":"d","i":4,"x":2017,"v":0.42},{"g":"d","i":4,"x":2018,"v":0.44},{"g":"d","i":4,"x":2019,"v":0.45},{"g":"d","i":4,"x":2020,"v":0.46},{"g":"d","i":4,"x":2021,"v":0.47},{"g":"d","i":4,"x":2023,"v":0.47},{"g":"d","i":4,"x":2025,"v":0.47},{"g":"d","i":4,"x":2027,"v":0.47},

{"g":"d","i":5,"x":1950,"v":0.995},{"g":"d","i":5,"x":1960,"v":0.982},{"g":"d","i":5,"x":1970,"v":0.97},{"g":"d","i":5,"x":1977,"v":0.955},{"g":"d","i":5,"x":1981,"v":0.945},
{"g":"d","i":5,"x":1982,"v":0.91},{"g":"d","i":5,"x":1983,"v":0.86},{"g":"d","i":5,"x":1984,"v":0.81},{"g":"d","i":5,"x":1985,"v":0.75},{"g":"d","i":5,"x":1986,"v":0.7},{"g":"d","i":5,"x":1987,"v":0.67},{"g":"d","i":5,"x":1988,"v":0.66},{"g":"d","i":5,"x":1989,"v":0.65},{"g":"d","i":5,"x":1990,"v":0.64},{"g":"d","i":5,"x":1991,"v":0.65},
{"g":"d","i":5,"x":1992,"v":0.6},{"g":"d","i":5,"x":1993,"v":0.56},{"g":"d","i":5,"x":1994,"v":0.52},{"g":"d","i":5,"x":1995,"v":0.47},{"g":"d","i":5,"x":1996,"v":0.44},{"g":"d","i":5,"x":1997,"v":0.44},{"g":"d","i":5,"x":1998,"v":0.44},{"g":"d","i":5,"x":1999,"v":0.56},{"g":"d","i":5,"x":2000,"v":0.64},{"g":"d","i":5,"x":2001,"v":0.56},
{"g":"d","i":5,"x":2002,"v":0.62},{"g":"d","i":5,"x":2003,"v":0.56},{"g":"d","i":5,"x":2004,"v":0.46},{"g":"d","i":5,"x":2005,"v":0.42},{"g":"d","i":5,"x":2006,"v":0.67},{"g":"d","i":5,"x":2007,"v":0.38},{"g":"d","i":5,"x":2008,"v":0.28},{"g":"d","i":5,"x":2009,"v":0.47},{"g":"d","i":5,"x":2010,"v":0.33},{"g":"d","i":5,"x":2011,"v":0.42},
{"g":"d","i":5,"x":2012,"v":0.4},{"g":"d","i":5,"x":2013,"v":0.31},{"g":"d","i":5,"x":2014,"v":0.39},{"g":"d","i":5,"x":2015,"v":0.31},{"g":"d","i":5,"x":2016,"v":0.34},
{"g":"d","i":5,"x":2017,"v":0.34},{"g":"d","i":5,"x":2018,"v":0.34},{"g":"d","i":5,"x":2019,"v":0.34},{"g":"d","i":5,"x":2020,"v":0.34},{"g":"d","i":5,"x":2021,"v":0.34},{"g":"d","i":5,"x":2023,"v":0.34},{"g":"d","i":5,"x":2025,"v":0.34},{"g":"d","i":5,"x":2027,"v":0.34}
]},
"mark":{"type":"line","strokeWidth":2.5,"strokeOpacity":0.5,"clip":true},
"encoding":{
"x":{"field":"x","type":"quantitative","scale":{"domain":[1950,2025.5],"nice":false,"zero":false},
 "axis":{"title":null,"values":[1950,1960,1970,1980,1990,2000,2010,2020],"format":"d","grid":false,"labelFontSize":13,"labelColor":"#000","labelFont":"Liberation Sans","labelPadding":17,"labelFlush":false,"tickSize":10,"tickColor":"#000","domainColor":"#000","domainWidth":1}},
"y":{"field":"v","type":"quantitative","scale":{"domain":[0,2],"nice":false,"zero":true},
 "axis":{"title":"SSB/SSB0","values":[0,0.5,1,1.5,2],"format":".1f","grid":false,"labelAngle":270,"labelAlign":"center","labelBaseline":"bottom","labelFontSize":13,"labelColor":"#000","labelFont":"Liberation Sans","labelPadding":11,"labelFlush":false,"labelOverlap":false,"tickSize":9,"tickColor":"#000","domainColor":"#666","domainWidth":1.5,"titleFontSize":12,"titleFontWeight":"normal","titleFont":"Liberation Sans","titleColor":"#000","titleAngle":270,"titleX":-64,"titleY":248,"titleAlign":"center","titleBaseline":"middle"}},
"color":{"field":"g","type":"nominal","scale":{"domain":["a","b","c","d"],"range":["#FF0000","#0000FF","#228B22","#FFA500"]},
 "legend":{"orient":"none","legendX":18,"legendY":10,"title":null,"padding":0,"symbolType":"M-1.6,0H1.6","symbolSize":289,"symbolStrokeWidth":2.5,"symbolOpacity":1,"symbolFillColor":"transparent","labelOffset":10,"labelFontSize":16,"labelFont":"Liberation Sans","labelColor":"#000","rowPadding":1,
  "labelExpr":"datum.label=='a'?'rtss UUa1':datum.label=='b'?'rtss Ua':datum.label=='c'?'rttp UUa1':'rttp Ua'"}},
"detail":{"field":"i","type":"nominal"}
}},
{"data":{"values":[{"v":1},{"v":0.4},{"v":0.1}]},"mark":{"type":"rule","color":"#E02424","strokeWidth":1.2},"encoding":{"y":{"field":"v","type":"quantitative"}}},
{"data":{"values":[{"x":2017}]},"mark":{"type":"rule","color":"#E02424","strokeWidth":1.2},"encoding":{"x":{"field":"x","type":"quantitative"}}}
]
}
